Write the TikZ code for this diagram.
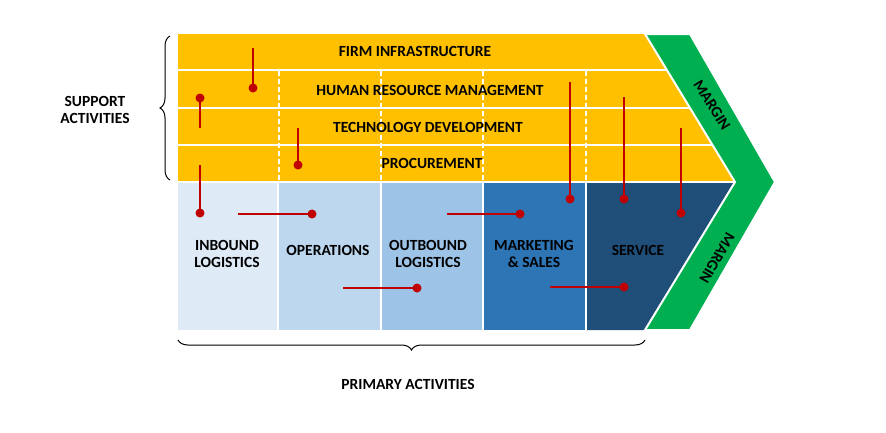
\documentclass[tikz,border=0pt]{standalone}
\usepackage{fontspec}
\setmainfont{Carlito}
\usetikzlibrary{decorations.pathreplacing}
\definecolor{yel}{HTML}{FFC000}
\definecolor{grn}{HTML}{00B050}
\definecolor{ca}{HTML}{DEEAF6}
\definecolor{cb}{HTML}{BDD7EE}
\definecolor{cc}{HTML}{9DC3E6}
\definecolor{cd}{HTML}{2E75B6}
\definecolor{ce}{HTML}{1F4E79}
\definecolor{redpin}{HTML}{C00000}
\begin{document}
\begin{tikzpicture}[x=1pt,y=-1pt,
  lab/.style={font=\bfseries\fontsize{15.5}{17.5}\selectfont,align=center,inner sep=0},
  sep/.style={white,line width=2.5pt},
  dsep/.style={white,line width=1.5pt,dash pattern=on 5pt off 3pt},
  pinl/.style={draw=redpin,line width=2pt},
  pdot/.style={circle,fill=redpin,inner sep=0,minimum size=9pt}]
\useasboundingbox (0,0) rectangle (886,432);
% support
\fill[yel] (178,34) -- (645,34) -- (735,182) -- (178,182) -- cycle;
% primary
\fill[ca] (178,182) rectangle (278,330);
\fill[cb] (278,182) rectangle (381,330);
\fill[cc] (381,182) rectangle (483,330);
\fill[cd] (483,182) rectangle (586,330);
\fill[ce] (586,182) -- (735,182) -- (645,330) -- (586,330) -- cycle;
\foreach \x in {278,381,483,586} \draw[sep] (\x,182) -- (\x,330);
\foreach \y/\xr in {70/667,108/690,145/712} \draw[sep] (178,\y) -- (\xr,\y);
\draw[sep] (178,182) -- (735,182);
\foreach \x in {279,381,483,586} \draw[dsep] (\x,71) -- (\x,181);
% margin
\fill[grn,draw=white,line width=2pt] (645,34) -- (690,34) -- (775,182) -- (690,330) -- (645,330) -- (735,182) -- cycle;
\node[lab,rotate=-58] (m1) at (712,105) {MARGIN};
\node[lab,rotate=-120] (m2) at (717,258) {MARGIN};
% labels
\node[lab] (fi) at (415,51) {FIRM INFRASTRUCTURE};
\node[lab] (hr) at (430,90) {HUMAN RESOURCE MANAGEMENT};
\node[lab] (td) at (428,127) {TECHNOLOGY DEVELOPMENT};
\node[lab] (pr) at (432,163) {PROCUREMENT};
\node[lab] (il) at (227,254) {INBOUND\\LOGISTICS};
\node[lab] (op) at (328,250) {OPERATIONS};
\node[lab] (ol) at (428,254) {OUTBOUND\\LOGISTICS};
\node[lab] (ms) at (534,254) {MARKETING\\\& SALES};
\node[lab] (sv) at (638,250) {SERVICE};
\node[lab] (sa) at (95,110) {SUPPORT\\ACTIVITIES};
\node[lab] (pa) at (408,384) {PRIMARY ACTIVITIES};
% braces
\draw[line width=1pt,decorate,decoration={brace,amplitude=10pt}] (170,180) -- (170,36);
\draw[line width=1pt,decorate,decoration={brace,amplitude=10pt}] (645,340) -- (178,340);
% pins
\foreach \a/\b/\c/\d/\n in {253/48/253/88/p1, 200/128/200/98/p2, 298/128/298/165/p3, 200/165/200/213/p4, 238/214/312/214/p5, 447/214/520/214/p6, 570/82/570/199/p7, 624/97/624/199/p8, 681/128/681/213/p9, 343/288/417/288/p10, 550/287/624/287/p11}{
  \coordinate (\n s) at (\a,\b);
  \node[pdot] (\n) at (\c,\d) {};
  \draw[pinl] (\n s) -- (\n.center);
}
\end{tikzpicture}
\end{document}
